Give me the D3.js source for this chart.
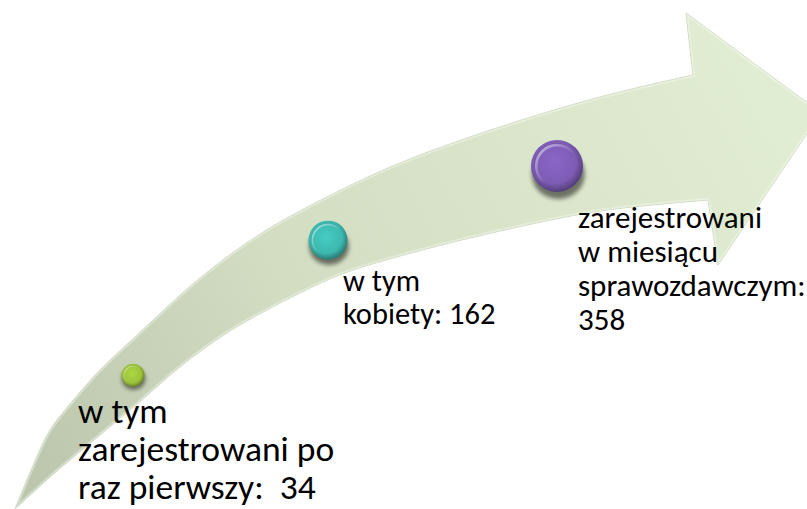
<!DOCTYPE html>
<html>
<head>
<meta charset="utf-8">
<script src="https://cdn.jsdelivr.net/npm/d3@7"></script>
<style>
  html, body { margin: 0; padding: 0; background: #fff; }
  svg { display: block; }
</style>
</head>
<body>
<svg id="chart"></svg>
<script>
// stages, values and label text
const categories = ["poRazPierwszy", "kobiety", "wMiesiacu"];
const values = [34, 162, 358];
const labelLines = [
    ["w tym", "zarejestrowani po", "raz pierwszy:  {v}"],
    ["w tym", "kobiety: {v}"],
    ["zarejestrowani", "w miesiącu", "sprawozdawczym:", "{v}"]
];
const ballColors = ["#9CC23B", "#3DB7AF", "#7D5CB4"];

const width = 807, height = 509;
const svg = d3.select("#chart").attr("width", width).attr("height", height);
const defs = svg.append("defs");

// arrow outline (decorative shape)
const outerEdge = [[15, 509], [32, 468], [50, 430], [75, 398], [100, 370], [135, 337], [200, 278],
    [260, 234], [327, 197], [400, 163], [500, 127], [600, 97], [693, 75]];
const headPts = [[686, 13], [821, 113], [718, 265], [708, 200]];
const innerEdge = [[708, 200], [600, 211], [500, 231], [400, 256], [342, 274], [300, 293], [230, 331],
    [180, 367], [143, 399], [100, 435], [57, 471], [15, 509]];

const curve = d3.line().curve(d3.curveCatmullRom.alpha(0.5));
const outerD = curve(outerEdge);
const innerD = curve(innerEdge);
const arrowD = outerD + headPts.map(p => "L" + p[0] + "," + p[1]).join("") + "L" + innerD.slice(1) + "Z";

const grad = defs.append("linearGradient").attr("id", "arrowFill")
    .attr("gradientUnits", "userSpaceOnUse")
    .attr("x1", 20).attr("y1", 500).attr("x2", 760).attr("y2", 90);
grad.append("stop").attr("offset", "0%").attr("stop-color", "#BAC5AC");
grad.append("stop").attr("offset", "40%").attr("stop-color", "#D2DDC2");
grad.append("stop").attr("offset", "100%").attr("stop-color", "#E1EDD2");

defs.append("filter").attr("id", "blur").attr("x", "-50%").attr("y", "-50%").attr("width", "200%").attr("height", "200%")
    .append("feGaussianBlur").attr("stdDeviation", 2);
defs.append("clipPath").attr("id", "arrowClip").append("path").attr("d", arrowD);

svg.append("path")
    .attr("d", arrowD)
    .attr("fill", "url(#arrowFill)")
    .attr("stroke", "#C9D6BA")
    .attr("stroke-width", 1);
svg.append("path")
    .attr("d", arrowD)
    .attr("fill", "none")
    .attr("stroke", "rgba(255,255,255,0.35)")
    .attr("stroke-width", 4)
    .attr("stroke-linejoin", "round")
    .attr("clip-path", "url(#arrowClip)");

// centre line of the arrow at a given x
const outerPath = svg.append("path").attr("d", outerD).attr("fill", "none");
const innerPath = svg.append("path").attr("d", innerD).attr("fill", "none");
function yAtX(pathNode, x) {
    const len = pathNode.getTotalLength();
    let best = null, bestDx = Infinity;
    for (let l = 0; l <= len; l += 0.5) {
        const p = pathNode.getPointAtLength(l);
        const dx = Math.abs(p.x - x);
        if (dx < bestDx) { bestDx = dx; best = p; }
    }
    return best.y;
}

const ballX = d3.scaleOrdinal().domain(categories).range([133, 328, 557]);
const ballR = d3.scaleOrdinal().domain(categories).range([11.5, 19.5, 26]);
const color = d3.scaleOrdinal().domain(categories).range(ballColors);

const stages = categories.map((c, i) => {
    const x = ballX(c);
    const y = (yAtX(outerPath.node(), x) + yAtX(innerPath.node(), x)) / 2 + 2;
    return { key: c, value: values[i], lines: labelLines[i], x, y, r: ballR(c) };
});
outerPath.remove();
innerPath.remove();

stages.forEach(d => {
    const base = d3.color(color(d.key));
    const g = defs.append("radialGradient").attr("id", "ball-" + d.key)
        .attr("cx", "45%").attr("cy", "42%").attr("r", "58%");
    g.append("stop").attr("offset", "0%").attr("stop-color", base.brighter(0.3));
    g.append("stop").attr("offset", "72%").attr("stop-color", base);
    g.append("stop").attr("offset", "100%").attr("stop-color", base.darker(1.1));
    const rim = defs.append("linearGradient").attr("id", "rim-" + d.key)
        .attr("x1", "0%").attr("y1", "0%").attr("x2", "100%").attr("y2", "100%");
    rim.append("stop").attr("offset", "0%").attr("stop-color", "#fff").attr("stop-opacity", 0.6);
    rim.append("stop").attr("offset", "55%").attr("stop-color", "#fff").attr("stop-opacity", 0);
});

const balls = svg.selectAll(".ball")
    .data(stages)
    .enter()
    .append("g")
    .attr("class", "ball")
    .attr("transform", d => `translate(${d.x},${d.y})`);

balls.append("ellipse")
    .attr("cx", d => d.r * 0.05)
    .attr("cy", d => d.r * 0.32)
    .attr("rx", d => d.r * 1.02)
    .attr("ry", d => d.r * 0.95)
    .attr("fill", "rgba(0,0,0,0.5)")
    .attr("filter", "url(#blur)");

balls.append("circle")
    .attr("r", d => d.r)
    .attr("fill", d => `url(#ball-${d.key})`);

balls.append("circle")
    .attr("r", d => d.r * 0.8)
    .attr("fill", "none")
    .attr("stroke", d => `url(#rim-${d.key})`)
    .attr("stroke-width", d => Math.max(1.2, d.r * 0.1));

balls.append("circle")
    .attr("r", d => d.r * 0.87)
    .attr("fill", "none")
    .attr("stroke", d => d3.color(color(d.key)).darker(0.6))
    .attr("stroke-opacity", 0.35)
    .attr("stroke-width", 1);

// labels
const labelX = d3.scaleOrdinal().domain(categories).range([78, 343, 578]);
const labelY = d3.scaleOrdinal().domain(categories).range([423, 291, 228]);
const fontSize = d3.scaleOrdinal().domain(categories).range([35.5, 30.5, 31]);
const lineGap = d3.scaleOrdinal().domain(categories).range([38, 33, 34]);

const labels = svg.selectAll(".label")
    .data(stages)
    .enter()
    .append("text")
    .attr("class", "label")
    .attr("x", d => labelX(d.key))
    .attr("y", d => labelY(d.key))
    .style("font-family", "Calibri, Carlito, Lato, 'Open Sans', sans-serif")
    .style("font-size", d => fontSize(d.key) + "px")
    .attr("fill", "#000");

labels.selectAll("tspan")
    .data(d => d.lines.map((t, i) => ({ text: t.replace("{v}", d.value), i, d })))
    .enter()
    .append("tspan")
    .attr("x", t => labelX(t.d.key))
    .attr("y", t => labelY(t.d.key) + t.i * lineGap(t.d.key))
    .style("white-space", "pre")
    .text(t => t.text);
</script>
</body>
</html>
